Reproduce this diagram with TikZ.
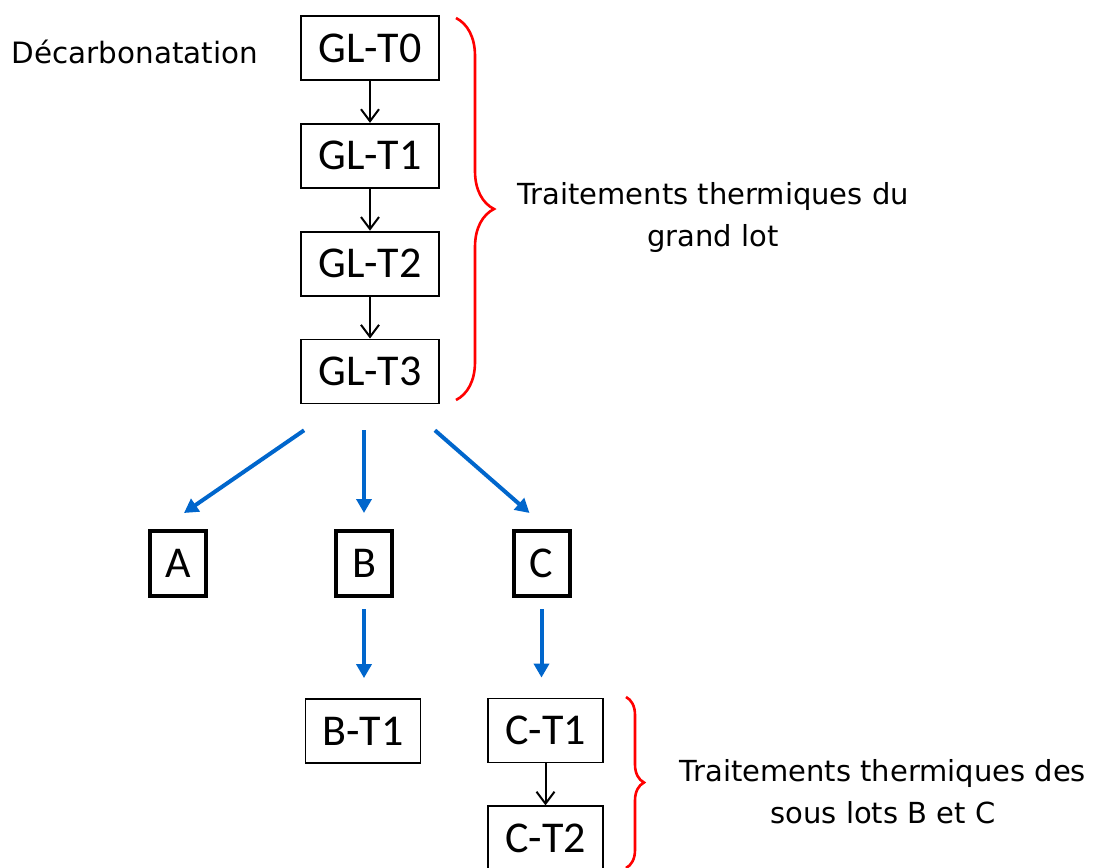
\documentclass[tikz,border=0pt]{standalone}
\usepackage{fontspec}
\setmainfont{Carlito}
\newfontfamily\notefont{DejaVu Sans}
\usetikzlibrary{arrows.meta,positioning,decorations.pathreplacing}
\definecolor{flow}{HTML}{0066CC}
\definecolor{bracered}{HTML}{FF0000}

\begin{document}
\begin{tikzpicture}[x=0.5pt,y=-0.5pt,>={Straight Barb[length=6pt,width=9pt]},node distance=21pt]
  \tikzstyle{glbox}=[draw,line width=0.9pt,minimum width=69pt,minimum height=32pt,inner sep=0pt,font=\fontsize{22}{26}\selectfont]
  \tikzstyle{lotbox}=[draw,line width=2pt,minimum width=28pt,minimum height=32.5pt,inner sep=0pt,font=\fontsize{22}{26}\selectfont]
  \tikzstyle{subbox}=[glbox,minimum width=57.5pt,minimum height=32pt]
  \tikzstyle{note}=[font=\notefont\fontsize{14.5}{21}\selectfont,align=center]
  \tikzstyle{step arrow}=[->,line width=1pt]
  \tikzstyle{split}=[-{Triangle[length=7pt,width=7.5pt]},line width=2pt,color=flow]
  \tikzstyle{curly}=[draw=bracered,line width=1.3pt,decorate]
  \useasboundingbox (0,0) rectangle (1099,868);
  % grand lot
  \node[glbox] (t0) at (370,48) {GL-T0};
  \node[glbox,below=of t0] (t1) {GL-T1};
  \node[glbox,below=of t1] (t2) {GL-T2};
  \node[glbox,below=of t2] (t3) {GL-T3};
  \draw[step arrow] (t0) -- (t1);
  \draw[step arrow] (t1) -- (t2);
  \draw[step arrow] (t2) -- (t3);
  \node[note,font=\notefont\fontsize{14.7}{21}\selectfont] (decarb) at (135,52) {Décarbonatation};
  % sous lots
  \node[lotbox] (a) at (178,563.5) {A};
  \node[lotbox] (b) at (364,563.5) {B};
  \node[lotbox] (c) at (541.5,563.5) {C};
  \draw[split] ([xshift=2pt,yshift=-13pt]t3.south west) -- ([xshift=3pt,yshift=8pt]a.north);
  \draw[split] ([xshift=-3pt,yshift=-13pt]t3.south) -- ([yshift=8pt]b.north);
  \draw[split] ([xshift=-2.5pt,yshift=-13pt]t3.south east) -- ([xshift=-6pt,yshift=8pt]c.north);
  \node[subbox] (bt1) at (363,731) {B-T1};
  \node[subbox] (ct1) at (545.5,730.5) {C-T1};
  \node[subbox,below=21pt of ct1] (ct2) {C-T2};
  \draw[split,shorten <=5.5pt,shorten >=10pt] (b.south) -- (b.south |- bt1.north);
  \draw[split,shorten <=5.5pt,shorten >=10pt] (c.south) -- (c.south |- ct1.north);
  \draw[step arrow] (ct1) -- (ct2);
  % accolades
  \coordinate (gltop) at (456,18);
  \coordinate (glbot) at (456,400);
  \coordinate (sltop) at (626,697);
  \coordinate (slbot) at (626,868);
  \draw[curly,decoration={brace,amplitude=19pt}] (gltop) -- (glbot);
  \draw[curly,decoration={brace,amplitude=9pt}] (sltop) -- (slbot);
  \node[note] (glnote) at (713,217) {Traitements thermiques du\\grand lot};
  \node[note] (slnote) at (883,792) {Traitements thermiques des\\sous lots B et C};
\end{tikzpicture}
\end{document}
